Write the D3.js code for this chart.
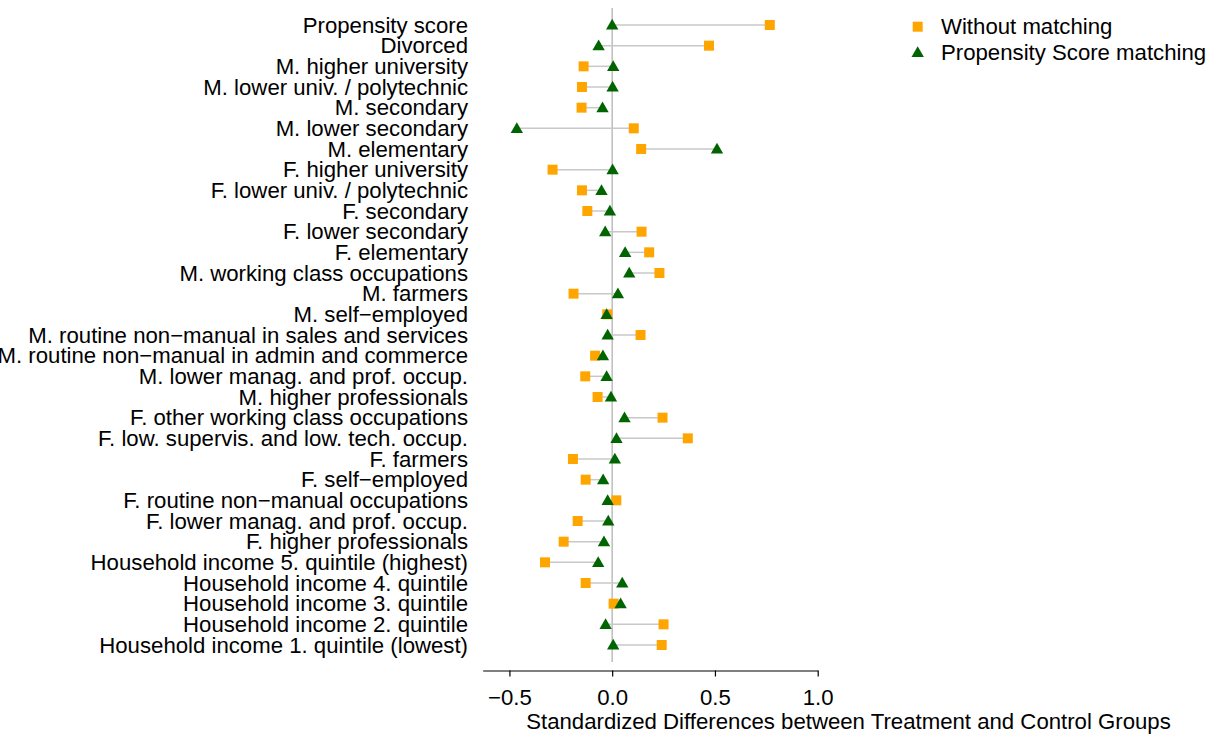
<!DOCTYPE html>
<html>
<head>
<meta charset="utf-8">
<script src="https://cdn.jsdelivr.net/npm/d3@7/dist/d3.min.js"></script>
<style>
  html, body { margin: 0; padding: 0; background: #fff; }
  svg { display: block; }
  text { font-family: "Liberation Sans", Arial, sans-serif; fill: #000; }
</style>
</head>
<body>
<svg id="chart" width="1213" height="735"></svg>
<script>
const categories = [
  "Propensity score",
  "Divorced",
  "M. higher university",
  "M. lower univ. / polytechnic",
  "M. secondary",
  "M. lower secondary",
  "M. elementary",
  "F. higher university",
  "F. lower univ. / polytechnic",
  "F. secondary",
  "F. lower secondary",
  "F. elementary",
  "M. working class occupations",
  "M. farmers",
  "M. self\u2212employed",
  "M. routine non\u2212manual in sales and services",
  "M. routine non\u2212manual in admin and commerce",
  "M. lower manag. and prof. occup.",
  "M. higher professionals",
  "F. other working class occupations",
  "F. low. supervis. and low. tech. occup.",
  "F. farmers",
  "F. self\u2212employed",
  "F. routine non\u2212manual occupations",
  "F. lower manag. and prof. occup.",
  "F. higher professionals",
  "Household income 5. quintile (highest)",
  "Household income 4. quintile",
  "Household income 3. quintile",
  "Household income 2. quintile",
  "Household income 1. quintile (lowest)"
];
const withoutMatching = [
  0.767, 0.471, -0.139, -0.147, -0.149, 0.105, 0.141, -0.290, -0.147, -0.121,
  0.143, 0.180, 0.230, -0.188, -0.024, 0.138, -0.083, -0.131, -0.071, 0.245,
  0.368, -0.191, -0.129, 0.020, -0.168, -0.236, -0.327, -0.129, 0.007, 0.250,
  0.241
];
const psMatching = [
  0.000, -0.066, 0.005, 0.002, -0.047, -0.464, 0.510, 0.002, -0.052, -0.011,
  -0.034, 0.063, 0.083, 0.028, -0.027, -0.022, -0.045, -0.027, -0.006, 0.060,
  0.021, 0.013, -0.044, -0.022, -0.019, -0.040, -0.068, 0.049, 0.041, -0.032,
  0.005
];
const seriesNames = ["Without matching", "Propensity Score matching"];
const tickValues = [-0.5, 0, 0.5, 1.0];
const tickLabels = ["\u22120.5", "0.0", "0.5", "1.0"];
const xTitle = "Standardized Differences between Treatment and Control Groups";

const svg = d3.select("#chart");
const FONT = 22.2;
const orange = "#FFA500", green = "#006400";

const x = d3.scaleLinear().domain([-0.63, 1.0]).range([482.7, 817.7]);
const y = d3.scalePoint().domain(categories).range([25, 645]);

// zero reference line
svg.append("line")
  .attr("x1", x(0)).attr("x2", x(0))
  .attr("y1", 8).attr("y2", 662)
  .attr("stroke", "#bdbdbd").attr("stroke-width", 1.5);

const rows = categories.map((c, i) => ({ c, a: withoutMatching[i], b: psMatching[i] }));

// connecting segments
svg.append("g").selectAll("line").data(rows).join("line")
  .attr("x1", d => x(d.a)).attr("x2", d => x(d.b))
  .attr("y1", d => y(d.c)).attr("y2", d => y(d.c))
  .attr("stroke", "#c8c8c8").attr("stroke-width", 1.5);

const sq = d3.symbol().type(d3.symbolSquare).size(100);
const tri = d3.symbol().type(d3.symbolTriangle).size(66);

svg.append("g").selectAll("path").data(rows).join("path")
  .attr("d", sq)
  .attr("transform", d => `translate(${x(d.a)},${y(d.c)})`)
  .attr("fill", orange);

svg.append("g").selectAll("path").data(rows).join("path")
  .attr("d", tri)
  .attr("transform", d => `translate(${x(d.b)},${y(d.c) + 1})`)
  .attr("fill", green);

// category labels
svg.append("g").selectAll("text").data(categories).join("text")
  .attr("x", 468)
  .attr("y", d => y(d))
  .attr("dy", "0.35em")
  .attr("text-anchor", "end")
  .attr("font-size", FONT)
  .text(d => d);

// x axis
const axis = d3.axisBottom(x)
  .tickValues(tickValues)
  .tickFormat((d, i) => tickLabels[i])
  .tickSize(6)
  .tickSizeOuter(0)
  .tickPadding(13);
const gx = svg.append("g").attr("transform", "translate(0,670.5)").call(axis);
gx.select(".domain").attr("stroke", "#000").attr("stroke-width", 1.2);
gx.selectAll(".tick line").attr("stroke", "#000").attr("stroke-width", 1.2);
gx.selectAll(".tick text").attr("font-size", FONT).attr("font-family", "Liberation Sans, Arial, sans-serif").attr("fill", "#000");

svg.append("text")
  .attr("x", 848.5).attr("y", 729)
  .attr("text-anchor", "middle")
  .attr("font-size", FONT)
  .text(xTitle);

// legend
const lg = svg.append("g");
lg.append("path").attr("d", sq).attr("transform", "translate(917.7,26.7)").attr("fill", orange);
lg.append("path").attr("d", tri).attr("transform", "translate(917.7,53.5)").attr("fill", green);
lg.selectAll("text").data(seriesNames).join("text")
  .attr("x", 941)
  .attr("y", (d, i) => 26.7 + i * 26)
  .attr("dy", "0.35em")
  .attr("font-size", FONT)
  .text(d => d);
</script>
</body>
</html>
